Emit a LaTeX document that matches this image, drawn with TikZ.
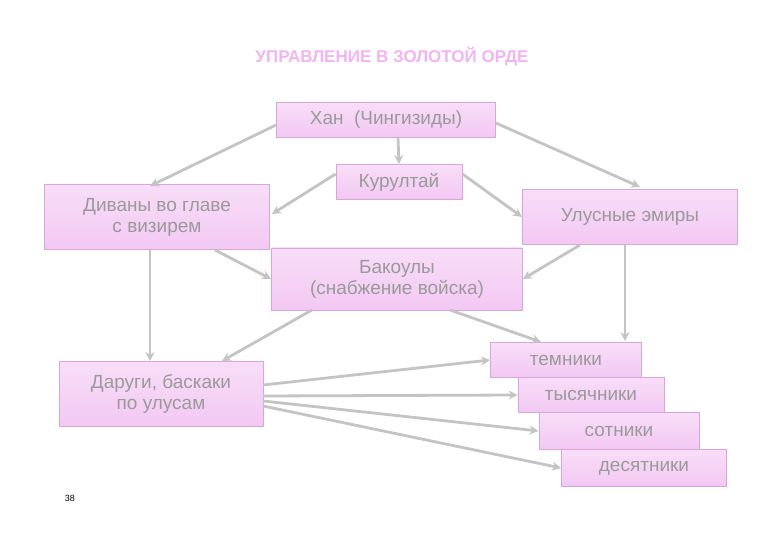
\documentclass[tikz,border=0pt]{standalone}
\usepackage{fontspec}
\setmainfont{Liberation Sans}
\usetikzlibrary{arrows.meta}
\definecolor{bx}{HTML}{F3C8F3}
\definecolor{bxd}{HTML}{D9A6D9}
\definecolor{tx}{HTML}{9A9A9A}
\definecolor{ttl}{HTML}{F2B4F2}
\definecolor{ln}{HTML}{C4C4C4}
\begin{document}
\begin{tikzpicture}[x=1pt,y=-1pt,
 box/.style={draw=bxd,line width=0.8pt,top color=bx!60,bottom color=bx,inner sep=0pt,text=tx,font=\fontsize{19}{21}\selectfont,align=center,anchor=center},
 arr/.style={draw=ln,line width=2.8pt,-{Stealth[length=9pt,width=9pt]}}]
\path[use as bounding box,fill=white] (0,0) rectangle (780,540);
\node[text=ttl,font=\bfseries\fontsize{17}{19}\selectfont] (title) at (392,57) {УПРАВЛЕНИЕ В ЗОЛОТОЙ ОРДЕ};
\node[box,minimum width=219pt,minimum height=35pt] (khan) at (386,120) {Хан\ \ (Чингизиды)};
\node[box,minimum width=126pt,minimum height=35pt] (kur) at (399,182) {Курултай};
\node[box,minimum width=225pt,minimum height=65pt] (div) at (157,217) {Диваны во главе\\с визирем};
\node[box,minimum width=215pt,minimum height=55pt] (emir) at (630,217) {Улусные эмиры};
\node[box,minimum width=251pt,minimum height=62pt] (bak) at (397,279) {Бакоулы\\(снабжение войска)};
\node[box,minimum width=204pt,minimum height=65pt] (dar) at (161,394) {Даруги, баскаки\\по улусам};
\node[box,minimum width=151pt,minimum height=35pt] (tem) at (566,360) {темники};
\node[box,minimum width=146pt,minimum height=35pt] (tys) at (591,395) {тысячники};
\node[box,minimum width=160pt,minimum height=37pt] (sot) at (619,431) {сотники};
\node[box,minimum width=165pt,minimum height=37pt] (des) at (644,468) {десятники};
\node[text=black,font=\fontsize{9}{10}\selectfont] (pg) at (70,498) {38};
\draw[arr] (khan.west) ++(0,5) -- (150,186);
\draw[arr] (khan.east) ++(0,3) -- (640,187);
\draw[arr] (khan.south) ++(12,0) -- (kur.north);
\draw[arr] ([yshift=8pt]kur.west) -- (272,214);
\draw[arr] ([yshift=8pt]kur.east) -- (emir.west);
\draw[arr] (215,250) -- (bak.west);
\draw[arr] (580,245) -- (bak.east);
\draw[arr] (150,250) -- (dar.north -| 150,0);
\draw[arr] (625,245) -- (625,341);
\draw[arr] (312,310) -- (222,361);
\draw[arr] (450,310) -- (541,342);
\draw[arr] (263,385) -- (tem.west);
\draw[arr] (263,396) -- (tys.west);
\draw[arr] (263,401) -- (sot.west);
\draw[arr] (263,406) -- (des.west);
\end{tikzpicture}
\end{document}
